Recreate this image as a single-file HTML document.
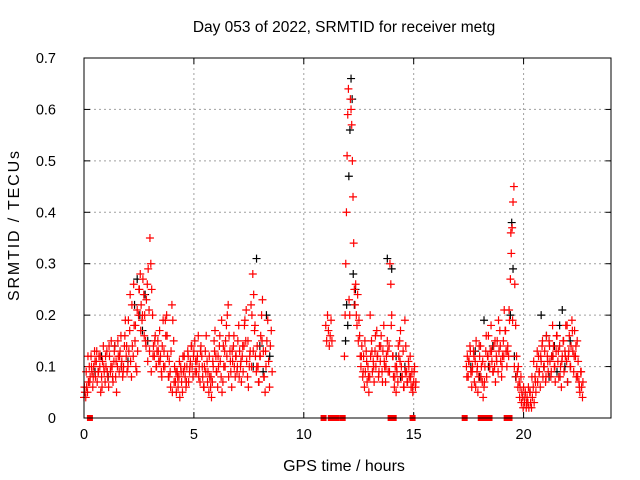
<!DOCTYPE html>
<html><head><meta charset="utf-8"><style>
html,body{margin:0;padding:0;background:#fff;}
svg{display:block;font-family:"Liberation Sans",sans-serif;}
</style></head><body>
<svg id="chart" width="640" height="480">
<text x="344" y="32" font-size="15.5" text-anchor="middle">Day 053 of 2022, SRMTID for receiver metg</text>
<text x="344" y="471" font-size="16" text-anchor="middle">GPS time / hours</text>
<text transform="translate(19,226) rotate(-90)" font-size="16" text-anchor="middle" textLength="150">SRMTID / TECUs</text>
<g id="grid"></g>
<g id="ticks"></g>
<g id="black"></g>
<g id="red"></g>
<rect x="84" y="58" width="527" height="360" fill="none" stroke="#000" stroke-width="1"/>
</svg>
<script>
const xTicks=[0,5,10,15,20];
const yTicks=[0,0.1,0.2,0.3,0.4,0.5,0.6,0.7];
const yTickLabels=["0","0.1","0.2","0.3","0.4","0.5","0.6","0.7"];
const redStarts=[0,0.02,11.0,11.85,12.6,12.62,17.4,17.42];
const redSteps=[0.04,0.08,0.04,0.03,0.04,0.08,0.04,0.08];
const redVals=[
[0.04,0.05,0.04,0.06,0.05,0.07,0.1,0.08,0.12,0.09,0.06,0.1,0.13,0.08,0.11,0.07,0.09,0.12,0.1,0.05,0.08,0.11,0.14,0.09,0.07,
 0.1,0.13,0.08,0.06,0.12,0.09,0.15,0.1,0.07,0.11,0.14,0.08,0.05,0.1,0.12,0.09,0.13,0.16,0.11,0.08,0.1,0.14,0.19,0.12,0.09,
 0.1,0.13,0.17,0.11,0.08,0.14,0.12,0.18,0.15,0.1,0.09,0.13,0.2,0.25,0.28,0.22,0.19,0.27,0.24,0.2,0.15,0.23,0.26,0.29,0.21,
 0.35,0.3,0.25,0.2,0.14,0.12,0.16,0.1,0.13,0.15,0.11,0.17,0.12,0.09,0.14,0.19,0.13,0.1,0.16,0.2,0.12,0.08,0.11,0.09,0.13,
 0.22,0.19,0.15,0.1,0.07,0.05,0.09,0.06,0.08,0.04,0.1,0.07,0.05,0.09,0.12,0.08,0.06,0.1,0.13,0.07,0.09,0.11,0.14,0.1,0.08,
 0.13,0.15,0.11,0.09,0.12,0.16,0.1,0.07,0.14,0.12,0.08,0.06,0.1,0.13,0.16,0.11,0.09,0.05,0.08,0.06,0.04,0.07,0.1,0.15,0.17,
 0.12,0.09,0.06,0.1,0.14,0.11,0.08,0.05,0.07,0.1,0.13,0.15,0.18,0.2,0.22,0.16,0.13,0.09,0.06,0.11,0.14,0.1,0.08,0.12,0.09,
 0.15,0.18,0.13,0.1,0.07,0.12,0.09,0.14,0.19,0.15,0.11,0.08,0.06,0.1,0.13,0.22,0.2,0.28,0.24,0.17,0.12,0.09,0.14,0.1,0.07,
 0.12,0.16,0.2,0.23,0.13,0.08,0.05,0.1,0.15,0.19,0.11,0.06,0.14,0.17,0.09],
[0.06,0.09,0.12,0.07,0.1,0.08,0.11,0.13,0.09,0.12,0.06,0.1,
 0.12,0.09,0.14,0.1,0.08,0.13,0.11,0.15,0.12,0.1,0.09,0.16,
 0.14,0.19,0.24,0.22,0.26,0.18,0.21,0.25,0.17,0.2,0.16,0.14,
 0.11,0.13,0.09,0.12,0.15,0.1,0.13,0.11,0.08,0.1,0.19,0.16,
 0.08,0.06,0.05,0.07,0.09,0.08,0.11,0.09,0.12,0.1,0.07,0.12,
 0.1,0.14,0.12,0.09,0.11,0.08,0.13,0.1,0.06,0.09,0.07,0.12,
 0.08,0.11,0.13,0.09,0.12,0.16,0.19,0.14,0.1,0.12,0.08,0.11,
 0.13,0.16,0.12,0.1,0.08,0.11,0.14,0.18,0.21,0.15,0.12,0.1,
 0.13,0.18,0.1,0.07,0.12,0.15,0.08,0.13],
[0.18,0.15,0.2,0.17,0.14,0.16,0.19,0.15],
[0.12,0.2,0.3,0.4,0.51,0.59,0.64,0.23,0.2,0.62,0.6,0.57,0.5,0.43,0.34,0.25,0.22,0.26,0.2,0.18,0.24,0.15,0.19,0.16,0.12],
[0.1,0.14,0.08,0.12,0.06,0.09,0.13,0.07,0.1,0.05,0.08,0.12,0.15,0.09,0.11,0.07,0.13,0.1,0.17,0.12,0.08,0.14,0.11,0.16,0.09,
 0.13,0.18,0.1,0.07,0.12,0.15,0.09,0.14,0.3,0.26,0.2,0.12,0.08,0.06,0.1,0.05,0.09,0.07,0.12,0.15,0.17,0.1,0.08,0.13,0.06,
 0.19,0.14,0.09,0.07,0.11,0.08,0.12,0.06,0.09,0.05,0.07,0.1,0.06],
[0.12,0.09,0.15,0.11,0.08,0.2,0.13,0.1,0.16,0.12,0.09,0.14,0.07,0.11,0.1,0.13,0.09,0.18,0.12,0.08,0.1,0.14,0.11,0.08,0.06,0.09,0.07,0.1,0.08,0.06,0.09,0.07],
[0.1,0.12,0.08,0.11,0.14,0.09,0.06,0.1,0.13,0.07,0.11,0.15,0.09,0.05,0.08,0.12,0.14,0.1,0.07,0.04,0.06,0.1,0.13,0.08,
 0.12,0.16,0.1,0.13,0.18,0.11,0.09,0.14,0.1,0.07,0.12,0.15,0.09,0.13,0.17,0.11,0.08,0.12,0.15,0.21,0.17,0.13,0.1,0.14,
 0.12,0.19,0.27,0.32,0.37,0.42,0.45,0.26,0.18,0.12,0.09,0.1,0.07,0.06,0.08,0.05,0.04,0.06,0.03,0.05,0.02,0.04,0.03,0.02,
 0.05,0.03,0.02,0.04,0.06,0.03,0.08,0.05,0.1,0.07,0.12,0.09,0.06,0.11,0.14,0.08,0.1,0.13,0.07,0.16,0.12,0.09,0.15,0.11,
 0.08,0.12,0.18,0.14,0.1,0.07,0.13,0.16,0.11,0.08,0.14,0.1,0.06,0.12,0.15,0.09,0.13,0.18,0.11,0.07,0.12,0.16,0.1,0.14,
 0.19,0.13,0.09,0.17,0.12,0.08,0.15,0.11,0.07,0.05,0.09,0.06,0.04],
[0.08,0.11,0.13,0.09,0.12,0.06,0.1,0.14,0.08,0.11,0.07,0.16,0.12,0.1,0.13,0.09,0.15,0.11,0.19,0.14,0.1,0.12,0.17,0.13,
 0.21,0.36,0.19,0.1,0.08,0.06,0.04,0.03,0.02,0.04,0.03,0.06,0.05,0.08,0.11,0.07,0.13,0.09,0.12,0.15,0.1,0.08,0.11,0.14,
 0.09,0.12,0.1,0.16,0.13,0.08,0.11,0.15,0.12,0.18,0.13,0.1,0.17,0.12,0.14,0.08,0.06,0.09,0.07]
];
const blackStarts=[0.5,2.3,7.7,11.9,13.8,17.6,19.4,20.8];
const blackSteps=[0.3,0.12,0.15,0.05,0.2,0.2,0.06,0.12];
const blackVals=[
[0.09,0.12,0.08,0.14,0.1,0.11],
[0.22,0.27,0.2,0.17,0.24,0.15],
[0.1,0.31,0.14,0.09,0.2,0.12],
[0.15,0.22,0.18,0.47,0.56,0.66,0.62,0.28,0.22,0.25],
[0.31,0.29,0.12,0.08,0.1],
[0.1,0.13,0.08,0.19,0.1,0.14],
[0.2,0.38,0.29,0.12,0.08],
[0.2,0.1,0.16,0.08,0.12,0.14,0.09,0.18,0.21,0.1,0.07,0.15]
];
const zeroHours=[0.27,10.9,11.23,11.36,11.5,11.77,13.95,14.09,14.95,17.32,18.05,18.18,18.32,18.45,19.23,19.36];

const NS="http://www.w3.org/2000/svg";
const X0=84,X1=611.5,Y0=418,Y1=58,XMAX=24,YMAX=0.7;
function xs(h){return X0+h*(X1-X0)/XMAX;}
function ys(v){return Y0-v*(Y0-Y1)/YMAX;}
function mk(tag,attrs,parent){const e=document.createElementNS(NS,tag);for(const k in attrs)e.setAttribute(k,attrs[k]);parent.appendChild(e);return e;}
const grid=document.getElementById('grid'),ticks=document.getElementById('ticks');
xTicks.forEach(t=>{
  const x=xs(t);
  if(t>0){const g=mk('line',{x1:x,x2:x,y1:Y1,y2:Y0,stroke:'#a0a0a0','stroke-dasharray':'2,3'},grid);
  
  }
  mk('line',{x1:x,x2:x,y1:Y0,y2:Y0-6,stroke:'#000'},ticks);
  mk('line',{x1:x,x2:x,y1:Y1,y2:Y1+6,stroke:'#000'},ticks);
  const l=mk('text',{x:x,y:Y0+21,'font-size':14.5,'text-anchor':'middle'},ticks);
  l.textContent=t;
  
  
});
yTicks.forEach((v,i)=>{
  const y=ys(v);
  if(v>0&&v<YMAX){const g=mk('line',{x1:X0,x2:X1,y1:y,y2:y,stroke:'#a0a0a0','stroke-dasharray':'2,3'},grid);
  
  }
  mk('line',{x1:X0,x2:X0+6,y1:y,y2:y,stroke:'#000'},ticks);
  mk('line',{x1:X1,x2:X1-6,y1:y,y2:y,stroke:'#000'},ticks);
  const l=mk('text',{x:X0-28,y:y+5,'font-size':14.5,'text-anchor':'end'},ticks);
  l.textContent=yTickLabels[i];
  
  
});
function plus(h,v,color,parent){
  const x=xs(h),y=ys(v);
  const p=mk('path',{d:`M${x-4},${y}h8M${x},${y-4}v8`,stroke:color,'stroke-width':1.2,fill:'none'},parent);
  
  
}
const bg=document.getElementById('black');
blackVals.forEach((arr,s)=>arr.forEach((v,i)=>plus(blackStarts[s]+i*blackSteps[s],v,'#000',bg)));
const rg=document.getElementById('red');
redVals.forEach((arr,s)=>arr.forEach((v,i)=>plus(redStarts[s]+i*redSteps[s],v,'#f00',rg)));
zeroHours.forEach(h=>{
  const r=mk('rect',{x:xs(h)-3,y:Y0-3,width:6,height:6,fill:'#f00'},rg);
  
  
});
</script>
</body></html>
